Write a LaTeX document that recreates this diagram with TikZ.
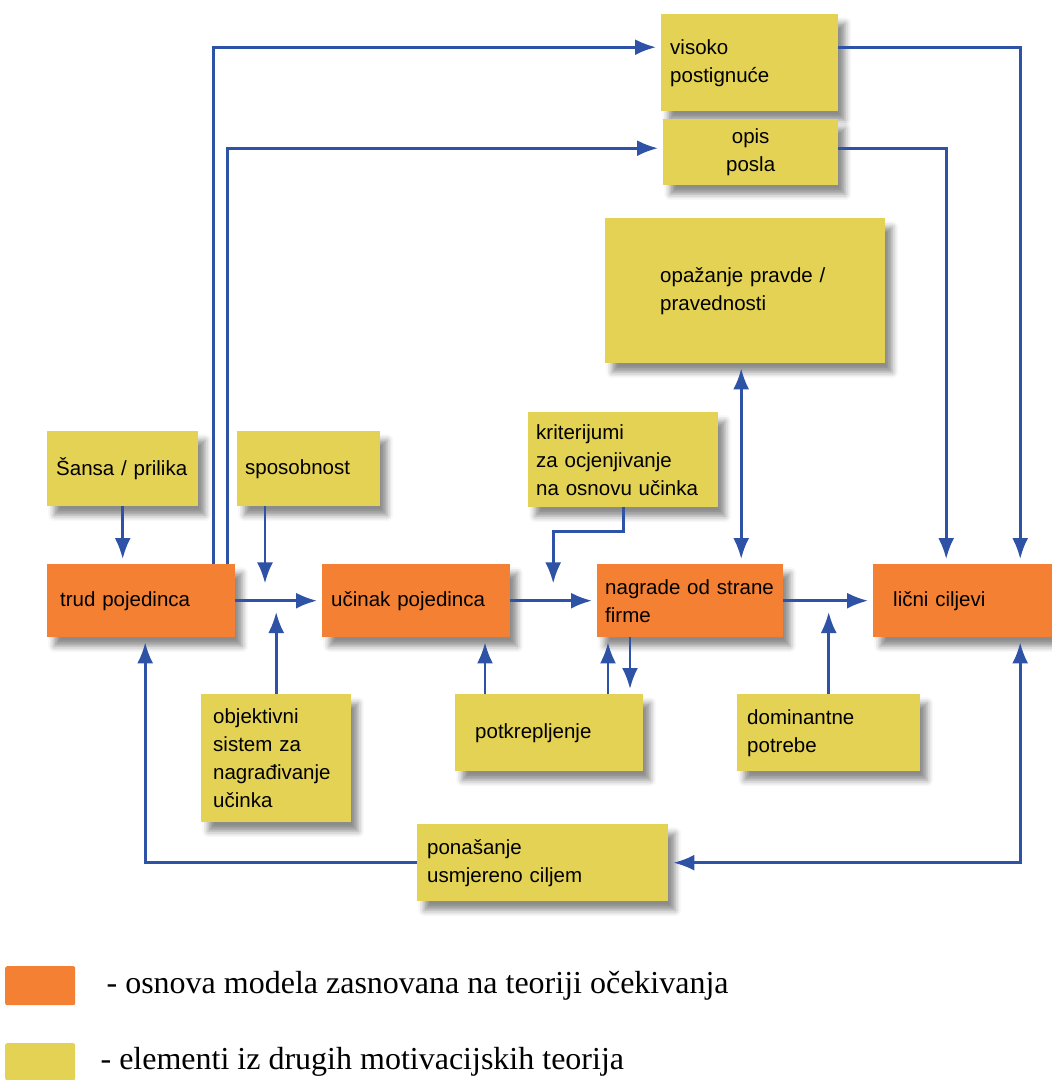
\documentclass[tikz,border=0pt]{standalone}
\usepackage{fontspec}
\setmainfont{Liberation Serif}
\newfontfamily\kutijafont{Liberation Sans}
\usetikzlibrary{arrows.meta, calc, positioning, shadows.blur}
\definecolor{narandz}{HTML}{F38033}
\definecolor{zuta}{HTML}{E3D254}
\definecolor{plava}{HTML}{2E52A5}

\begin{document}
\begin{tikzpicture}[x=1pt, y=-1pt,
                        kutija/.style={anchor=north west, inner xsep=0pt, inner ysep=2pt, align=left,
                            font=\kutijafont\fontsize{20.5}{28}\selectfont,
                            blur shadow={shadow xshift=7pt, shadow yshift=-9pt, shadow blur radius=6pt, shadow opacity=45}},
                        osnova/.style={kutija, fill=narandz},
                        drugi/.style={kutija, fill=zuta},
                        veza/.style={draw=plava, line width=2.6pt},
                        strelica/.style={veza, -{Latex[length=21pt, width=16pt]}, shorten >=5pt},
                        dvosmjerna/.style={veza, {Latex[length=21pt, width=16pt]}-{Latex[length=21pt, width=16pt]}, shorten >=5pt, shorten <=5pt},
                        legenda/.style={anchor=north west, inner sep=0pt, rounded corners=2pt},
                        legtekst/.style={anchor=west, inner sep=0pt, font=\fontsize{32}{36}\selectfont}]
                    \useasboundingbox (0,0) rectangle (1052,1080);
                    \node[drugi, minimum width=177pt, minimum height=97pt, text width=159pt] (visoko) at (661,14) {visoko\\postignuće};
                    \node[drugi, minimum width=175pt, minimum height=66pt, text width=157pt, align=center] (opis) at (663,119) {opis\\posla};
                    \node[drugi, minimum width=280pt, minimum height=145pt, text width=170pt] (opazanje) at (605,218) {opažanje pravde /\\pravednosti};
                    \node[drugi, minimum width=151pt, minimum height=75pt, text width=133pt] (sansa) at (47,431) {Šansa / prilika};
                    \node[drugi, minimum width=143pt, minimum height=75pt, text width=127pt] (sposobnost) at (237,431) {sposobnost};
                    \node[drugi, minimum width=190pt, minimum height=95pt, text width=174pt] (kriterij) at (528,412) {kriterijumi\\za ocjenjivanje\\na osnovu učinka};
                    \node[osnova, minimum width=188pt, minimum height=73pt, text width=162pt] (trud) at (47,564) {trud pojedinca};
                    \node[osnova, minimum width=188pt, minimum height=73pt, text width=170pt] (ucinak) at (322,564) {učinak pojedinca};
                    \node[osnova, minimum width=186pt, minimum height=73pt, text width=170pt] (nagrade) at (597,564) {nagrade od strane\\firme};
                    \node[osnova, minimum width=179pt, minimum height=73pt, text width=139pt] (licni) at (873,564) {lični ciljevi};
                    \node[drugi, minimum width=150pt, minimum height=128pt, text width=126pt] (objektivni) at (201,694) {objektivni\\sistem za\\nagrađivanje\\učinka};
                    \node[drugi, minimum width=188pt, minimum height=77pt, text width=148pt] (potkr) at (455,694) {potkrepljenje};
                    \node[drugi, minimum width=183pt, minimum height=77pt, text width=163pt] (dominantne) at (737,694) {dominantne\\potrebe};
                    \node[drugi, minimum width=251pt, minimum height=77pt, text width=231pt] (ponasanje) at (417,824) {ponašanje\\usmjereno ciljem};
                    \draw[strelica] ([xshift=-22pt]trud.north east) |- ([yshift=15.5pt]visoko.west);
                    \draw[strelica] ([xshift=-8pt]trud.north east) |- ([yshift=4pt]opis.west);
                    \draw[strelica] ([yshift=15.5pt]visoko.east) -| ([xshift=57.5pt]licni.north);
                    \draw[strelica] ([yshift=4pt]opis.east) -| ([xshift=-16.5pt]licni.north);
                    \draw[dvosmjerna] ([xshift=-4pt]opazanje.south) -- ([xshift=-4pt]opazanje.south |- nagrade.north);
                    \draw[strelica] (sansa.south) -- (sansa.south |- trud.north);
                    \draw[strelica, shorten >=0pt] ([xshift=28pt]sposobnost.south west) -- ++(0,77);
                    \draw[strelica] (trud.east) -- (ucinak.west);
                    \draw[strelica, shorten >=0pt] (objektivni.north) -- ++(0,-82);
                    \draw[strelica, shorten >=0pt] (kriterij.south) -- ++(0,24) -| ++(-70,52);
                    \draw[strelica] (ucinak.east) -- (nagrade.west);
                    \draw[strelica] (nagrade.east) -- (licni.west);
                    \draw[strelica] ([xshift=30pt]potkr.north west) -- ([xshift=30pt]potkr.north west |- ucinak.south);
                    \draw[strelica] ([xshift=153pt]potkr.north west) -- ([xshift=153pt]potkr.north west |- nagrade.south);
                    \draw[strelica] ([xshift=33pt]nagrade.south west) -- ([xshift=33pt]nagrade.south west |- potkr.north);
                    \draw[strelica, shorten >=0pt] (dominantne.north) -- ++(0,-82);
                    \draw[dvosmjerna] ([xshift=57.5pt]licni.south) |- (ponasanje.east);
                    \draw[strelica] (ponasanje.west) -| ([xshift=4pt]trud.south);
                    \node[legenda, fill=narandz, minimum width=70pt, minimum height=39pt] (legnar) at (5,966) {};
                    \node[legenda, fill=zuta, minimum width=70pt, minimum height=37pt] (legzuta) at (5,1043) {};
                    \node[legtekst, right=31pt of legnar] (tekstnar) {- osnova modela zasnovana na teoriji očekivanja};
                    \node[legtekst, right=25pt of legzuta] (tekstzuta) {- elementi iz drugih motivacijskih teorija};
                \end{tikzpicture}
\end{document}
